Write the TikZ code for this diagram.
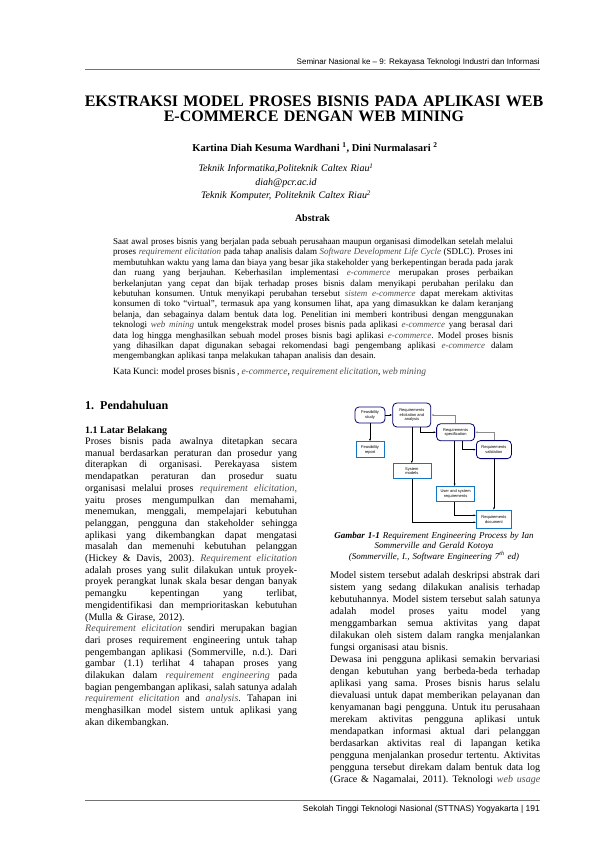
\documentclass[tikz,border=0pt]{standalone}
\usepackage{fontspec}
\setmainfont{Liberation Serif}
\setsansfont{Liberation Sans}
\usetikzlibrary{positioning, arrows.meta}

\newcommand{\ital}[1]{{\itshape\color{black!70}#1}}
\newcommand{\regang}{\spaceskip=0.25em plus 1fil minus 0.05em\xspaceskip=0.3em plus 1fil minus 0.05em\relax}
\newcommand{\lebar}{212pt}
\newcommand{\jl}[1]{\makebox[\lebar][s]{\regang #1}\\}

\begin{document}
\begin{tikzpicture}[x=1pt, y=-1pt,
    teks/.style = {inner sep=0pt, anchor=base west, align=left},
    proses/.style = {draw=blue!45!black, line width=0.8pt, rounded corners=4pt, fill=white, align=center, inner sep=1pt, minimum width=38pt, minimum height=17pt, font=\sffamily\fontsize{4}{4.6}\selectfont},
    dokumen/.style = {draw=cyan!55!blue, line width=0.6pt, fill=white, align=center, inner sep=1pt, minimum width=38pt, minimum height=15pt, font=\sffamily\fontsize{4}{4.6}\selectfont},
    panah/.style = {-{Latex[length=2.5pt,width=2pt]}, line width=0.5pt},
    balik/.style = {panah, draw=black!45}]
    \useasboundingbox (0,0) rectangle (595,842);
    \fill[white] (0,0) rectangle (595,842);

    % Header
    \node[inner sep=0pt, anchor=base east, font=\sffamily\fontsize{8}{10}\selectfont] (kepala) at (540,65) {Seminar Nasional ke – 9: Rekayasa Teknologi Industri dan Informasi};
    \draw[black!55, line width=1pt] (85,70) -- (540,70);

    % Judul dan penulis
    \node[inner sep=0pt, anchor=base, text width=470pt, align=center, font=\bfseries\fontsize{16}{15.5}\selectfont] (judul) at (314,106.5) {EKSTRAKSI MODEL PROSES BISNIS PADA APLIKASI WEB\\E-COMMERCE DENGAN WEB MINING};
    \node[inner sep=0pt, anchor=base, font=\bfseries\fontsize{10.5}{13}\selectfont] (penulis) at (315,151.5) {Kartina Diah Kesuma Wardhani \textsuperscript{1}, Dini Nurmalasari \textsuperscript{2}};
    \node[inner sep=0pt, anchor=base, text width=260pt, align=center, font=\itshape\fontsize{10}{13.5}\selectfont] (afiliasi) at (286,172) {Teknik Informatika,Politeknik Caltex Riau\textsuperscript{1}\\diah@pcr.ac.id\\Teknik Komputer, Politeknik Caltex Riau\textsuperscript{2}};

    % Abstrak
    \node[inner sep=0pt, anchor=base, font=\bfseries\fontsize{10}{12}\selectfont] (abstrakjudul) at (312.5,222) {Abstrak};
    \renewcommand{\lebar}{400pt}
    \node[teks, text width=400pt, font=\fontsize{9}{10.4}\selectfont] (abstrak) at (113,244.5) {%
        \jl{Saat awal proses bisnis yang berjalan pada sebuah perusahaan maupun organisasi dimodelkan setelah melalui}
        \jl{proses \ital{requirement elicitation} pada tahap analisis dalam \ital{Software Development Life Cycle} (SDLC). Proses ini}
        \jl{membutuhkan waktu yang lama dan biaya yang besar jika stakeholder yang berkepentingan berada pada jarak}
        \jl{dan ruang yang berjauhan. Keberhasilan implementasi \ital{e-commerce} merupakan proses perbaikan}
        \jl{berkelanjutan yang cepat dan bijak terhadap proses bisnis dalam menyikapi perubahan perilaku dan}
        \jl{kebutuhan konsumen. Untuk menyikapi perubahan tersebut \ital{sistem e-commerce} dapat merekam aktivitas}
        \jl{konsumen di toko “virtual”, termasuk apa yang konsumen lihat, apa yang dimasukkan ke dalam keranjang}
        \jl{belanja, dan sebagainya dalam bentuk data log. Penelitian ini memberi kontribusi dengan menggunakan}
        \jl{teknologi \ital{web mining} untuk mengekstrak model proses bisnis pada aplikasi \ital{e-commerce} yang berasal dari}
        \jl{data log hingga menghasilkan sebuah model proses bisnis bagi aplikasi \ital{e-commerce}. Model proses bisnis}
        \jl{yang dihasilkan dapat digunakan sebagai rekomendasi bagi pengembang aplikasi \ital{e-commerce} dalam}
        mengembangkan aplikasi tanpa melakukan tahapan analisis dan desain.};
    \node[teks, font=\fontsize{9.5}{11}\selectfont] (kunci) at (113,374) {\makebox[290pt][s]{\regang Kata Kunci: model proses bisnis , \ital{e-commerce}, \ital{requirement elicitation}, \ital{web mining}}};

    % Pendahuluan
    \node[teks, font=\bfseries\fontsize{12}{14}\selectfont] (bab) at (85,409.5) {1.\hspace{6pt}Pendahuluan};
    \node[teks, font=\bfseries\fontsize{10}{12}\selectfont] (subbab) at (85,433) {1.1 Latar Belakang};
    \renewcommand{\lebar}{212pt}
    \node[teks, text width=212pt, font=\fontsize{10}{11.7}\selectfont] (kolomkiri) at (85,444.5) {%
        \jl{Proses bisnis pada awalnya ditetapkan secara}
        \jl{manual berdasarkan peraturan dan prosedur yang}
        \jl{diterapkan di organisasi. Perekayasa sistem}
        \jl{mendapatkan peraturan dan prosedur suatu}
        \jl{organisasi melalui proses \ital{requirement elicitation,}}
        \jl{yaitu proses mengumpulkan dan memahami,}
        \jl{menemukan, menggali, mempelajari kebutuhan}
        \jl{pelanggan, pengguna dan stakeholder sehingga}
        \jl{aplikasi yang dikembangkan dapat mengatasi}
        \jl{masalah dan memenuhi kebutuhan pelanggan}
        \jl{(Hickey \& Davis, 2003). \ital{Requirement elicitation}}
        \jl{adalah proses yang sulit dilakukan untuk proyek-}
        \jl{proyek perangkat lunak skala besar dengan banyak}
        \jl{pemangku kepentingan yang terlibat,}
        \jl{mengidentifikasi dan memprioritaskan kebutuhan}
        (Mulla \& Girase, 2012).\\
        \jl{\ital{Requirement elicitation} sendiri merupakan bagian}
        \jl{dari proses requirement engineering untuk tahap}
        \jl{pengembangan aplikasi (Sommerville, n.d.). Dari}
        \jl{gambar (1.1) terlihat 4 tahapan proses yang}
        \jl{dilakukan dalam \ital{requirement engineering} pada}
        \jl{bagian pengembangan aplikasi, salah satunya adalah}
        \jl{\ital{requirement elicitation} and \ital{analysis}. Tahapan ini}
        \jl{menghasilkan model sistem untuk aplikasi yang}
        akan dikembangkan.};

    % Gambar 1-1
    \node[proses, minimum width=30pt, minimum height=16pt] (FS) at (370,415) {Feasibility\\study};
    \node[proses, minimum height=24pt] (RE) [right=7pt of FS] {Requirements\\elicitation and\\analysis};
    \node[proses] (Spec) [below right=-4pt and 5pt of RE] {Requirements\\specification};
    \node[proses, minimum width=35pt, minimum height=18pt] (Val) [below right=-1pt and 1pt of Spec] {Requirements\\validation};
    \node[dokumen, minimum width=28pt, minimum height=16pt] (FR) [below=18pt of FS] {Feasibility\\report};
    \node[dokumen] (SM) [below=36pt of RE] {System\\models};
    \node[dokumen] (UR) [below=45pt of Spec] {User and system\\requirements};
    \node[dokumen, minimum width=35pt, minimum height=18pt] (RD) [below=51pt of Val] {Requirements\\document};

    \draw[panah] (FS) -- (RE);
    \draw[panah] (FS) -- (FR);
    \draw[panah] (RE) -- (SM);
    \draw[panah] ([xshift=8pt]RE.south) |- (Spec.west);
    \draw[balik] (Spec.north) |- (RE.east);
    \draw[panah] ([xshift=7pt]Spec.south) |- (Val.west);
    \draw[balik] (Val.north) |- (Spec.east);
    \draw[panah] ([xshift=-1pt]Spec.south) -- ([xshift=-1pt]UR.north);
    \draw[panah] (Val) -- (RD);
    \draw[panah] (SM.south) |- ([yshift=-3pt]RD.west);
    \draw[panah] ([xshift=-1pt]UR.south) |- ([yshift=4pt]RD.west);

    \node[inner sep=0pt, anchor=base, text width=212pt, align=center, font=\itshape\fontsize{9}{10.5}\selectfont] (keterangan) at (434,538) {\textbf{Gambar 1-1} Requirement Engineering Process by Ian\\Sommerville and Gerald Kotoya\\(Sommerville, I., Software Engineering 7\textsuperscript{th} ed)};

    % Kolom kanan
    \renewcommand{\lebar}{210pt}
    \node[teks, text width=210pt, font=\fontsize{10}{12}\selectfont] (kolomkanan) at (330,578.5) {%
        \jl{Model sistem tersebut adalah deskripsi abstrak dari}
        \jl{sistem yang sedang dilakukan analisis terhadap}
        \jl{kebutuhannya. Model sistem tersebut salah satunya}
        \jl{adalah model proses yaitu model yang}
        \jl{menggambarkan semua aktivitas yang dapat}
        \jl{dilakukan oleh sistem dalam rangka menjalankan}
        fungsi organisasi atau bisnis.\\
        \jl{Dewasa ini pengguna aplikasi semakin bervariasi}
        \jl{dengan kebutuhan yang berbeda-beda terhadap}
        \jl{aplikasi yang sama. Proses bisnis harus selalu}
        \jl{dievaluasi untuk dapat memberikan pelayanan dan}
        \jl{kenyamanan bagi pengguna. Untuk itu perusahaan}
        \jl{merekam aktivitas pengguna aplikasi untuk}
        \jl{mendapatkan informasi aktual dari pelanggan}
        \jl{berdasarkan aktivitas real di lapangan ketika}
        \jl{pengguna menjalankan prosedur tertentu. Aktivitas}
        \jl{pengguna tersebut direkam dalam bentuk data log}
        \jl{(Grace \& Nagamalai, 2011). Teknologi \ital{web usage}}};

    % Footer
    \draw[black!55, line width=1pt] (85,800) -- (540,800);
    \node[inner sep=0pt, anchor=base east, font=\sffamily\fontsize{8.5}{10}\selectfont] (kaki) at (540,811) {Sekolah Tinggi Teknologi Nasional (STTNAS) Yogyakarta | 191};
\end{tikzpicture}
\end{document}
